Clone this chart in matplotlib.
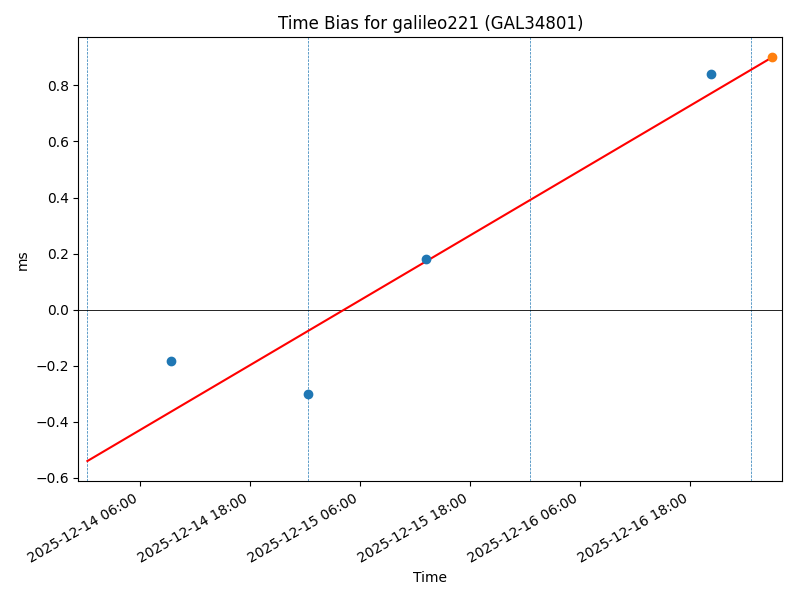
import matplotlib
matplotlib.use("Agg")
import matplotlib.pyplot as plt
import matplotlib.dates as mdates
import pandas as pd

# Data
obs_times = ["2025-12-14 09:23", "2025-12-15 00:20", "2025-12-15 13:12", "2025-12-16 20:15"]
obs_values = [-0.182, -0.300, 0.181, 0.842]
latest_time = ["2025-12-17 02:57"]
latest_value = [0.900]
fit_times = ["2025-12-14 00:13", "2025-12-17 02:57"]
fit_values = [-0.540, 0.900]
boundary_times = ["2025-12-14 00:13", "2025-12-15 00:20", "2025-12-16 00:33", "2025-12-17 00:37"]
xlim_times = ["2025-12-13 23:14", "2025-12-17 04:05"]

fig = plt.figure(figsize=(8, 6), dpi=100)
ax = fig.add_axes([0.098, 0.198, 0.880, 0.740])

for t in boundary_times:
    ax.axvline(pd.Timestamp(t), color="tab:blue", linestyle="--", linewidth=0.5)
ax.axhline(0, color="black", linewidth=0.6)

ax.plot(pd.to_datetime(fit_times), fit_values, color="red", linewidth=1.5)
ax.scatter(pd.to_datetime(obs_times), obs_values, color="tab:blue", s=36, zorder=3)
ax.scatter(pd.to_datetime(latest_time), latest_value, color="tab:orange", s=36, zorder=3)

ax.set_xlim(pd.Timestamp(xlim_times[0]), pd.Timestamp(xlim_times[1]))
ax.xaxis.set_major_locator(mdates.HourLocator(byhour=[6, 18]))
ax.xaxis.set_major_formatter(mdates.DateFormatter("%Y-%m-%d %H:%M"))
for lbl in ax.get_xticklabels():
    lbl.set_rotation(30)
    lbl.set_ha("right")

ax.set_title("Time Bias for galileo221 (GAL34801)")
ax.set_xlabel("Time")
ax.set_ylabel("ms")

fig.savefig("out.png", dpi=100)
